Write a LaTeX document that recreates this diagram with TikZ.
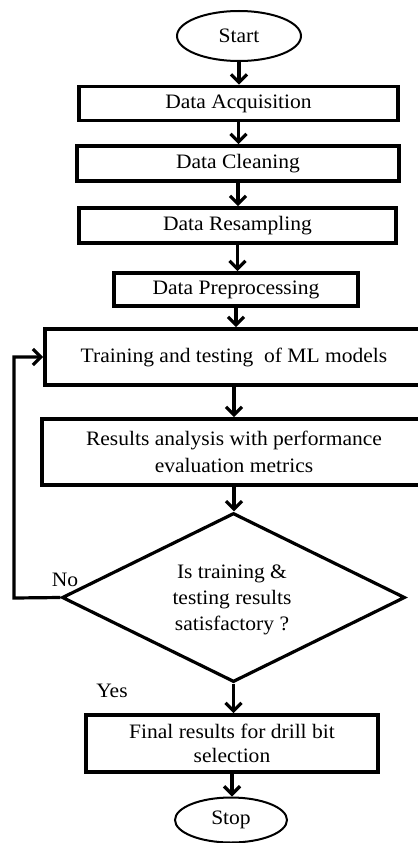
\documentclass[tikz,border=0pt]{standalone}
\usepackage{fontspec}
\setmainfont{Liberation Serif}[FakeStretch=1.05]
\usetikzlibrary{shapes.geometric,arrows.meta}
\begin{document}
\begin{tikzpicture}[x=1bp,y=-1bp,
  every node/.style={font=\fontsize{20.5bp}{25bp}\selectfont, text=black},
  procbox/.style={draw, line width=3.8bp, rectangle, inner sep=0pt, align=center},
  termnode/.style={draw, line width=2bp, ellipse, inner sep=0pt},
  decnode/.style={draw, line width=3.2bp, diamond, inner sep=0pt, align=center},
  arr/.style={line width=3.2bp, -{Straight Barb[length=8bp,width=16bp]}},
  lbl/.style={inner sep=0pt}]
\useasboundingbox (0,0) rectangle (417,843);
\node[termnode, minimum width=124bp, minimum height=50bp] (start) at (239,36) {Start};
\node[procbox, minimum width=319bp, minimum height=34bp] (da) at (238.5,103.5) {Data Acquisition};
\node[procbox, minimum width=322bp, minimum height=35bp] (dc) at (238,163.5) {Data Cleaning};
\node[procbox, minimum width=317bp, minimum height=35bp] (dr) at (237.5,225.5) {Data Resampling};
\node[procbox, minimum width=244bp, minimum height=33bp] (dp) at (236,289.5) {Data Preprocessing};
\node[procbox, minimum width=378bp, minimum height=56bp] (tr) at (234,357) {Training and testing\ \ of ML models};
\node[procbox, minimum width=384bp, minimum height=66bp, font=\fontsize{20.5bp}{27bp}\selectfont] (ra) at (234,452) {Results analysis with performance\\evaluation metrics};
\node[decnode, minimum width=343bp, minimum height=169bp, aspect=2.03] (dec) at (233.5,597.5) {};
\node[lbl, align=center, font=\fontsize{20.5bp}{26bp}\selectfont] (dect) at (232,600) {Is training \&\\testing results\\satisfactory ?};
\node[procbox, minimum width=292bp, minimum height=57bp, font=\fontsize{20.5bp}{24bp}\selectfont] (fr) at (232,743.5) {Final results for drill bit\\selection};
\node[termnode, minimum width=112bp, minimum height=45bp] (stop) at (231,820) {Stop};
\node[lbl] (no) at (65,580) {No};
\node[lbl] (yes) at (112,691) {Yes};
\coordinate (fb) at (14,598);
\draw[arr] (start.south) -- (start.south |- da.north);
\draw[arr] (da.south) -- (da.south |- dc.north);
\draw[arr] (dc.south) -- (dc.south |- dr.north);
\draw[arr] (dr.south) -- (dr.south |- dp.north);
\draw[arr] (dp.south) -- (dp.south |- tr.north);
\draw[arr] (tr.south) -- (tr.south |- ra.north);
\draw[arr] (ra.south) -- (ra.south |- dec.north);
\draw[arr] (dec.south) -- (dec.south |- fr.north);
\draw[arr] (fr.south) -- (fr.south |- stop.north);
\draw[arr] (dec.west) -- (fb) |- (tr.west);
\end{tikzpicture}
\end{document}
